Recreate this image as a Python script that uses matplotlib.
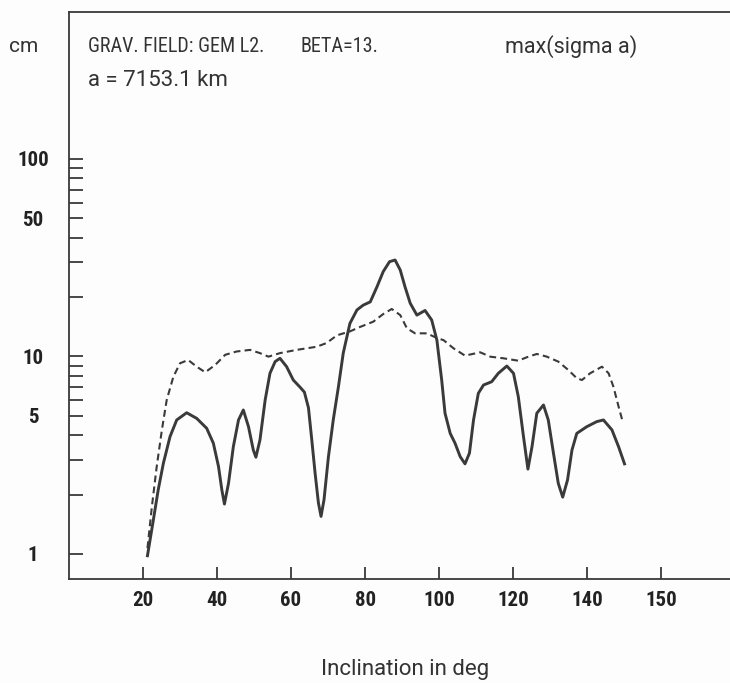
import numpy as np
import matplotlib
matplotlib.use("Agg")
import matplotlib.pyplot as plt
from matplotlib import font_manager
from matplotlib.ticker import FixedLocator, NullFormatter

# krivky (sklon v deg, max(sigma a) v cm)
inc_solid = [21.2, 22.8, 24.1, 25.5, 27.3, 29.1, 31.8, 34.5, 37.2, 39.0, 40.4, 41.3,
             42.0, 43.1, 44.4, 45.8, 47.1, 48.5, 49.8, 50.5, 51.6, 53.0, 54.3, 55.7,
             57.0, 58.8, 60.6, 62.4, 63.6, 64.7, 65.6, 66.5, 67.4, 68.1, 68.9, 70.1,
             71.4, 72.8, 74.1, 75.9, 77.8, 79.5, 81.4, 83.2, 84.9, 86.6, 88.1, 89.5,
             90.8, 92.2, 94.0, 96.2, 98.0, 99.4, 100.7, 101.6, 103.0, 104.3, 105.7,
             107.0, 108.2, 109.3, 110.6, 112.0, 114.2, 116.0, 118.3, 120.1, 121.4,
             122.8, 124.0, 125.1, 126.4, 128.2, 129.5, 130.9, 132.2, 133.4, 134.7,
             135.9, 137.2, 139.9, 142.6, 144.4, 146.7, 148.5, 150.1]
sig_solid = [0.98, 1.49, 2.11, 2.88, 3.93, 4.77, 5.19, 4.86, 4.33, 3.64, 2.77, 2.11,
             1.79, 2.28, 3.49, 4.77, 5.36, 4.41, 3.36, 3.09, 3.78, 6.02, 8.22, 9.42,
             9.79, 8.88, 7.60, 7.0, 6.6, 5.5, 3.78, 2.56, 1.81, 1.55, 1.88, 3.11,
             4.77, 7.03, 10.4, 14.7, 17.2, 18.2, 18.9, 22.5, 26.9, 30.2, 30.8, 27.4,
             22.5, 18.6, 16.2, 17.1, 15.3, 12.1, 7.60, 5.16, 4.08, 3.64, 3.11,
             2.86, 3.24, 4.77, 6.51, 7.17, 7.45, 8.22, 8.95, 8.22, 6.26,
             3.93, 2.69, 3.49, 5.16, 5.68, 4.77, 3.24, 2.28, 1.94, 2.37,
             3.36, 4.08, 4.41, 4.68, 4.77, 4.25, 3.49, 2.86]

inc_dash = [21.2, 22.4, 23.7, 25.1, 26.4, 28.2, 30.0, 32.2, 34.5, 36.8, 39.5, 42.2,
            45.3, 48.9, 51.6, 53.9, 57.0, 61.5, 66.9, 69.6, 72.4, 75.9, 78.6, 82.2,
            84.9, 87.2, 89.5, 91.3, 93.5, 96.7, 99.4, 101.2, 103.9, 107.0, 111.1,
            113.8, 117.4, 121.4, 123.7, 126.4, 129.1, 132.2, 134.9, 137.2, 138.6,
            140.8, 144.0, 145.8, 147.1, 148.5, 149.6]
sig_dash = [1.07, 1.74, 2.77, 4.25, 6.02, 7.90, 9.24, 9.60, 8.88, 8.32, 9.06, 10.2,
            10.6, 10.8, 10.4, 9.98, 10.4, 10.8, 11.2, 11.7, 12.8, 13.4, 14.1, 15.0,
            16.4, 17.4, 16.2, 13.9, 13.1, 13.1, 12.4, 12.1, 11.0, 10.1, 10.5,
            9.98, 9.79, 9.52, 9.91, 10.3, 9.98, 9.42, 8.55, 7.76, 7.60,
            8.22, 8.88, 8.22, 7.03, 5.57, 4.68]

x_ticks = [20, 40, 60, 80, 100, 120, 140, 160]
x_labels = ["20", "40", "60", "80", "100", "120", "140", "150"]
y_major = [1, 5, 10, 50, 100]
y_minor = [2, 3, 4, 6, 7, 8, 9, 20, 30, 40, 60, 70, 80, 90]

# uzky font, pokud je k dispozici
names = {f.name for f in font_manager.fontManager.ttflist}
font = "DejaVu Sans"
for cand in ["Roboto Condensed", "Liberation Sans Narrow", "DejaVu Sans Condensed"]:
    if cand in names:
        font = cand
        break
plt.rcParams["font.family"] = [font, "DejaVu Sans"]
wide = ["Roboto", "DejaVu Sans"]

ink = "#3a3a3a"
txt = "#333333"
fig = plt.figure(figsize=(7.3, 6.83), dpi=100)
fig.patch.set_facecolor("#fdfdfd")
ax = fig.add_axes([69/730, 104/683, 661/730, 567/683])
ax.set_facecolor("#fdfdfd")

ax.plot(inc_solid, sig_solid, color=ink, lw=2.1, solid_joinstyle="round")
ax.plot(inc_dash, sig_dash, color=ink, lw=1.5, dashes=(3.3, 2.0))

ax.set_yscale("log")
ax.set_xlim(0, 178.6)
ax.set_ylim(0.747, 555)

ax.yaxis.set_major_locator(FixedLocator(y_major))
ax.yaxis.set_minor_locator(FixedLocator(y_minor))
ax.yaxis.set_minor_formatter(NullFormatter())
ax.set_yticklabels([str(v) for v in y_major])
ax.set_xticks(x_ticks)
ax.set_xticklabels(x_labels)

ax.tick_params(axis="y", which="both", direction="in", length=10, width=1.3, color=ink,
               labelsize=15, labelcolor="#222222", pad=26)
ax.tick_params(axis="x", direction="in", length=9, width=1.3, color=ink,
               labelsize=15, labelcolor="#222222", pad=9)
for lab in ax.get_yticklabels():
    lab.set_horizontalalignment("center")
for lab in ax.get_xticklabels() + ax.get_yticklabels():
    lab.set_fontweight("bold")

for s in ["left", "top", "bottom"]:
    ax.spines[s].set_color(ink)
    ax.spines[s].set_linewidth(1.3)
ax.spines["right"].set_visible(False)

fig.text(24/730, 1 - 47/683, "cm", fontsize=15, color=txt, family=wide, ha="center", va="center")
fig.text(88/730, 1 - 47/683, "GRAV. FIELD: GEM L2.", fontsize=14.5, color=txt, va="center")
fig.text(300/730, 1 - 47/683, "BETA=13.", fontsize=14.5, color=txt, va="center")
fig.text(505/730, 1 - 47/683, "max(sigma a)", fontsize=15.5, color=txt, family=wide, va="center")
fig.text(88/730, 1 - 80/683, "a = 7153.1 km", fontsize=16, color=txt, family=wide, va="center")
fig.text(405/730, 1 - 670/683, "Inclination in deg", fontsize=16, color=txt, family=wide,
         ha="center", va="center")

fig.savefig("out.png", dpi=100, facecolor=fig.get_facecolor())
